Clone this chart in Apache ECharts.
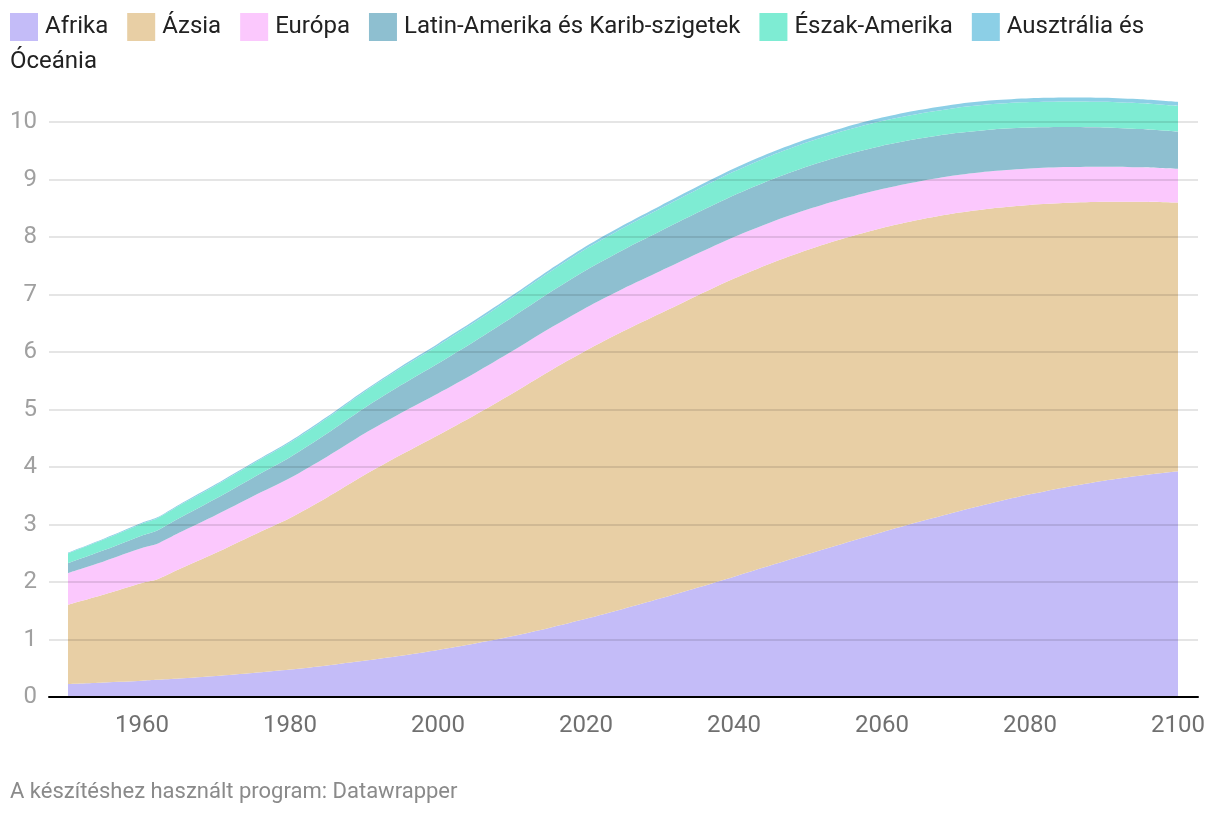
<!DOCTYPE html>
<html>
<head>
<meta charset="utf-8">
<script src="https://cdn.jsdelivr.net/npm/echarts@6/dist/echarts.min.js"></script>
<style>
html,body{margin:0;padding:0;background:#fff;}
#c{width:1220px;height:814px;}
</style>
</head>
<body>
<div id="c"></div>
<script>
const years = [1950,1955,1960,1962,1965,1970,1975,1980,1985,1990,1995,2000,2005,2010,2015,2020,2025,2030,2035,2040,2045,2050,2055,2060,2065,2070,2075,2080,2085,2090,2095,2100];
const afrika = [0.228,0.254,0.284,0.298,0.321,0.365,0.417,0.477,0.549,0.630,0.718,0.818,0.930,1.055,1.201,1.360,1.531,1.711,1.899,2.093,2.290,2.485,2.678,2.865,3.046,3.218,3.378,3.524,3.653,3.762,3.851,3.924];
const azsia = [1.379,1.535,1.700,1.745,1.900,2.143,2.397,2.637,2.922,3.226,3.494,3.735,3.976,4.220,4.460,4.664,4.828,4.958,5.080,5.185,5.255,5.293,5.303,5.291,5.253,5.198,5.124,5.034,4.941,4.850,4.762,4.674];
const europa = [0.550,0.578,0.606,0.617,0.634,0.657,0.677,0.694,0.708,0.721,0.727,0.726,0.729,0.736,0.742,0.746,0.741,0.735,0.728,0.721,0.712,0.703,0.692,0.680,0.668,0.657,0.645,0.634,0.622,0.611,0.599,0.587];
const latinAmerika = [0.168,0.192,0.220,0.232,0.252,0.287,0.324,0.362,0.403,0.444,0.485,0.523,0.558,0.591,0.623,0.652,0.675,0.695,0.713,0.728,0.740,0.749,0.752,0.750,0.744,0.735,0.724,0.711,0.697,0.682,0.665,0.647];
const eszakAmerika = [0.173,0.189,0.205,0.211,0.219,0.231,0.242,0.254,0.267,0.280,0.297,0.312,0.328,0.343,0.357,0.373,0.383,0.393,0.402,0.411,0.417,0.421,0.426,0.430,0.434,0.437,0.440,0.443,0.445,0.447,0.448,0.448];
const oceania = [0.0127,0.0142,0.0159,0.0166,0.0177,0.0195,0.0213,0.0227,0.0247,0.0269,0.0290,0.0312,0.0336,0.0368,0.0400,0.0433,0.0461,0.0487,0.0512,0.0536,0.0557,0.0577,0.0595,0.0612,0.0627,0.0641,0.0654,0.0665,0.0675,0.0683,0.0687,0.0688];

const seriesNames = ['Afrika','Ázsia','Európa','Latin-Amerika és Karib-szigetek','Észak-Amerika','Ausztrália és Óceánia'];
const seriesValues = [afrika, azsia, europa, latinAmerika, eszakAmerika, oceania];
const colors = ['#c4bcf8','#e8cfa5','#fbc8fd','#8ebfd0','#7eecd3','#8ccfe6'];
const xTicks = [1960,1980,2000,2020,2040,2060,2080,2100];
const yTicks = [0,1,2,3,4,5,6,7,8,9,10];

const FONT = 'Roboto, "Noto Sans", sans-serif';
const chart = echarts.init(document.getElementById('c'), null, {renderer:'canvas'});

// time positions (UTC, Jan 1 of each year)
const t = y => Date.UTC(y, 0, 1);
const YEAR_MS = (t(2100) - t(1950)) / 150;
const X_MIN_YEAR = 1950 - 19/7.4;
const X_MAX_YEAR = 2100 + 20/7.4;

const series = seriesNames.map((name, i) => ({
  name: name,
  type: 'line',
  stack: 'total',
  xAxisIndex: 0,
  clip: false,
  smooth: 0.25,
  symbol: 'none',
  lineStyle: {width: 0},
  areaStyle: {color: colors[i], opacity: 1},
  itemStyle: {color: colors[i]},
  z: 2,
  data: years.map((y, k) => [t(y), seriesValues[i][k]])
}));

chart.setOption({
  animation: false,
  backgroundColor: '#ffffff',
  textStyle: {fontFamily: FONT},
  legend: {
    left: 10, top: 13, padding: 0,
    itemWidth: 28, itemHeight: 28, itemGap: 19,
    icon: 'rect',
    selectedMode: false,
    data: seriesNames,
    formatter: n => n === 'Ausztrália és Óceánia' ? 'Ausztrália és' : n,
    textStyle: {fontFamily: FONT, fontSize: 24, color: '#222222', padding: [0,0,0,2]}
  },
  graphic: [
    {type:'text', left: 10, top: 50, style:{text:'Óceánia', font:'24px ' + FONT, fill:'#222222'}},
    {type:'text', left: 10, top: 781, style:{text:'A készítéshez használt program: Datawrapper', font:'22px ' + FONT, fill:'#8a8a8a'}}
  ],
  grid: {left: 49, right: 22, top: 122, bottom: 117},
  xAxis: [{
    type: 'time',
    min: t(1950) + (X_MIN_YEAR - 1950) * YEAR_MS,
    max: t(1950) + (X_MAX_YEAR - 1950) * YEAR_MS,
    z: 3,
    axisLine: {show: true, onZero: false, lineStyle: {color: '#000000', width: 2}},
    axisTick: {show: false},
    splitLine: {show: false},
    axisLabel: {show: false}
  }, {
    type: 'value',
    position: 'bottom',
    min: X_MIN_YEAR,
    max: X_MAX_YEAR,
    axisLine: {show: false},
    axisTick: {show: false},
    splitLine: {show: false},
    axisLabel: {
      customValues: xTicks,
      color: '#707070', fontSize: 24, fontFamily: FONT, margin: 17,
      formatter: v => String(Math.round(v))
    }
  }],
  yAxis: {
    type: 'value',
    min: 0, max: 10, interval: 1,
    z: 3,
    axisLine: {show: false},
    axisTick: {show: false},
    splitLine: {show: true, lineStyle: {color: 'rgba(0,0,0,0.1)', width: 2}},
    axisLabel: {
      color: '#a0a0a0', fontSize: 24, fontFamily: FONT, margin: 12,
      formatter: v => yTicks.includes(v) ? String(v) : ''
    }
  },
  series: series
});
</script>
</body>
</html>
